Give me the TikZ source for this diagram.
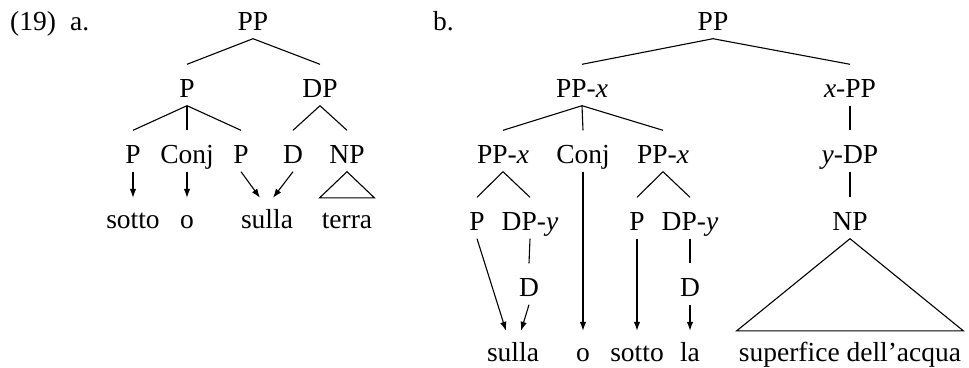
\documentclass[tikz,border=0pt]{standalone}
\usepackage{fontspec}
\setmainfont{Liberation Serif}
\usetikzlibrary{arrows.meta}
\begin{document}
\begin{tikzpicture}[x=1pt,y=-1pt,
  every node/.style={font=\fontsize{27.5}{30}\selectfont, anchor=base, inner xsep=2pt, inner ysep=8.5pt, text depth=0pt},
  cat/.style={text height=24pt},
  leaf/.style={text height=21.5pt},
  edge/.style={line width=1.1pt},
  arr/.style={line width=1.1pt, -{Latex[length=9pt,width=6.5pt]}}]
\useasboundingbox (0,0) rectangle (969,367);
% labels
\node[anchor=base west, inner sep=0pt] (num) at (10,30) {(19)};
\node[anchor=base west, inner sep=0pt] (la) at (70,30) {a.};
\node[anchor=base east, inner sep=0pt] (lb) at (454,30) {b.};
% ---------- tree a ----------
\node[cat] (aPP) at (253,30) {PP};
\node[cat] (aP) at (187,97) {P};
\node[cat] (aDP) at (320,97) {DP};
\node[cat] (aP1) at (133,163) {P};
\node[cat] (aConj) at (187,163) {Conj};
\node[cat] (aP2) at (241,163) {P};
\node[cat] (aD) at (293,163) {D};
\node[cat] (aNP) at (347,163) {NP};
\node[leaf] (asotto) at (133,228) {sotto};
\node[leaf] (ao) at (187,228) {o};
\node[leaf] (asulla) at (267,228) {sulla};
\node[leaf] (aterra) at (347,228) {terra};
\draw[edge] (aPP.south) -- (aP.north);
\draw[edge] (aPP.south) -- (aDP.north);
\draw[edge] (aP.south) -- (aP1.north);
\draw[edge] (aP.south) -- (aConj.north);
\draw[edge] (aP.south) -- (aP2.north);
\draw[edge] (aDP.south) -- (aD.north);
\draw[edge] (aDP.south) -- (aNP.north);
\draw[arr] (aP1.south) -- (asotto.north);
\draw[arr] (aConj.south) -- (ao.north);
\draw[arr] (aP2.south) -- ([xshift=-7pt]asulla.north);
\draw[arr] (aD.south) -- ([xshift=6pt]asulla.north);
\draw[edge] (aNP.south) -- (aterra.north west) -- (aterra.north east) -- cycle;
% ---------- tree b ----------
\node[cat] (bPP) at (713,30) {PP};
\node[cat] (bPPx) at (582,97) {PP-\textit{x}};
\node[cat] (bxPP) at (850,97) {\textit{x}-PP};
\node[cat] (bPPx1) at (503,163) {PP-\textit{x}};
\node[cat] (bConj) at (583,163) {Conj};
\node[cat] (bPPx2) at (663,163) {PP-\textit{x}};
\node[cat] (byDP) at (850,163) {\textit{y}-DP};
\node[cat] (bP1) at (477,230) {P};
\node[cat] (bDPy1) at (530,230) {DP-\textit{y}};
\node[cat] (bP2) at (637,230) {P};
\node[cat] (bDPy2) at (690,230) {DP-\textit{y}};
\node[cat] (bNP) at (850,230) {NP};
\node[cat] (bD1) at (529,296) {D};
\node[cat] (bD2) at (690,296) {D};
\node[leaf] (bsulla) at (513,361) {sulla};
\node[leaf] (bo) at (583,361) {o};
\node[leaf] (bsotto) at (637,361) {sotto};
\node[leaf] (bla) at (690,361) {la};
\node[leaf] (bsup) at (850,361) {superfice dell’acqua};
\draw[edge] (bPP.south) -- (bPPx.north);
\draw[edge] (bPP.south) -- (bxPP.north);
\draw[edge] (bPPx.south) -- (bPPx1.north);
\draw[edge] (bPPx.south) -- (bConj.north);
\draw[edge] (bPPx.south) -- (bPPx2.north);
\draw[edge] (bxPP.south) -- (byDP.north);
\draw[edge] (byDP.south) -- (bNP.north);
\draw[edge] (bPPx1.south) -- (bP1.north);
\draw[edge] (bPPx1.south) -- (bDPy1.north);
\draw[edge] (bPPx2.south) -- (bP2.north);
\draw[edge] (bPPx2.south) -- (bDPy2.north);
\draw[edge] (bDPy1.south) -- (bD1.north);
\draw[edge] (bDPy2.south) -- (bD2.north);
\draw[arr] (bP1.south) -- ([xshift=-7pt]bsulla.north);
\draw[arr] (bD1.south) -- ([xshift=8pt]bsulla.north);
\draw[arr] (bConj.south) -- (bo.north);
\draw[arr] (bP2.south) -- (bsotto.north);
\draw[arr] (bD2.south) -- (bla.north);
\draw[edge] (bNP.south) -- (bsup.north west) -- (bsup.north east) -- cycle;
\end{tikzpicture}
\end{document}
